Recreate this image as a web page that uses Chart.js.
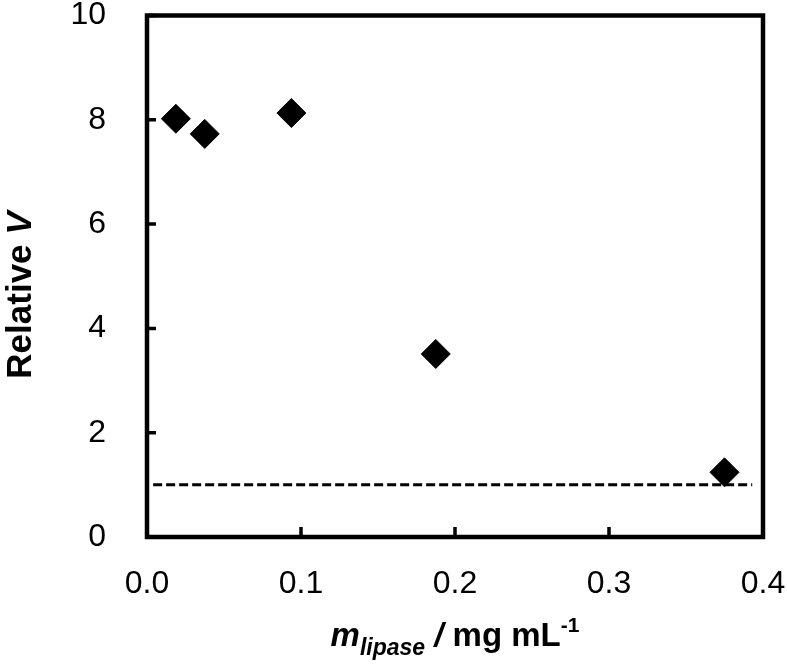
<!DOCTYPE html>
<html>
<head>
<meta charset="utf-8">
<script src="https://cdn.jsdelivr.net/npm/chart.js@4.4.1/dist/chart.umd.min.js"></script>
<style>
  html, body { margin: 0; padding: 0; background: #fff; }
  #wrap { width: 787px; height: 666px; }
</style>
</head>
<body>
<div id="wrap"><canvas id="myChart" width="787" height="666"></canvas></div>
<script>
// measured points
var xValues = [0.01875, 0.0375, 0.09375, 0.1875, 0.375];
var yValues = [8.02, 7.73, 8.13, 3.51, 1.24];
// reference line at relative V = 1
var refX = [0.004, 0.393];
var refY = [1, 1];
var xTicks = [0, 0.1, 0.2, 0.3, 0.4];
var yTicks = [0, 2, 4, 6, 8, 10];

var FONT = '"Liberation Sans", Arial, sans-serif';

function toPoints(xs, ys) {
  return xs.map(function (x, i) { return { x: x, y: ys[i] }; });
}

// frame, inward ticks, axis titles with sub/superscripts
var framePlugin = {
  id: "frame",
  afterDraw: function (chart) {
    var ctx = chart.ctx;
    var a = chart.chartArea;
    var xs = chart.scales.x, ys = chart.scales.y;
    ctx.save();
    ctx.strokeStyle = "#000";
    ctx.lineWidth = 4.5;
    ctx.lineJoin = "miter";
    ctx.strokeRect(a.left, a.top, a.right - a.left, a.bottom - a.top);

    ctx.lineWidth = 3.5;
    ctx.beginPath();
    xTicks.forEach(function (v) {
      var px = xs.getPixelForValue(v);
      ctx.moveTo(px, a.bottom);
      ctx.lineTo(px, a.bottom - 10);
    });
    yTicks.forEach(function (v) {
      var py = ys.getPixelForValue(v);
      ctx.moveTo(a.left, py);
      ctx.lineTo(a.left + 9, py);
    });
    ctx.stroke();

    ctx.fillStyle = "#000";
    ctx.textBaseline = "alphabetic";

    // x title: m_lipase / mg mL^-1
    var parts = [
      { t: "m", f: "italic bold 33px " + FONT, dy: 0 },
      { t: "lipase", f: "italic bold 23px " + FONT, dy: 9 },
      { t: " / ", f: "italic bold 33px " + FONT, dy: 0 },
      { t: "mg mL", f: "bold 33px " + FONT, dy: 0 },
      { t: "-1", f: "bold 21px " + FONT, dy: -14 }
    ];
    var total = 0;
    parts.forEach(function (p) { ctx.font = p.f; p.w = ctx.measureText(p.t).width; total += p.w; });
    var x0 = (a.left + a.right) / 2 - total / 2;
    var base = 646;
    parts.forEach(function (p) {
      ctx.font = p.f;
      ctx.fillText(p.t, x0, base + p.dy);
      x0 += p.w;
    });

    // y title: Relative V
    ctx.translate(31, 295);
    ctx.rotate(-Math.PI / 2);
    var yparts = [
      { t: "Relative ", f: "bold 35px " + FONT },
      { t: "V", f: "italic bold 35px " + FONT }
    ];
    var tw = 0;
    yparts.forEach(function (p) { ctx.font = p.f; p.w = ctx.measureText(p.t).width; tw += p.w; });
    var s = -tw / 2;
    yparts.forEach(function (p) {
      ctx.font = p.f;
      ctx.fillText(p.t, s, 0);
      s += p.w;
    });
    ctx.restore();
  }
};

var config = {
  type: "scatter",
  data: {
    datasets: [
      {
        label: "Relative V",
        data: toPoints(xValues, yValues),
        pointStyle: "rectRot",
        pointRadius: 14.5,
        pointHoverRadius: 14.5,
        backgroundColor: "#000",
        borderColor: "#000",
        borderWidth: 1
      },
      {
        label: "V = 1",
        type: "line",
        data: toPoints(refX, refY),
        borderColor: "#000",
        borderWidth: 3,
        borderDash: [9, 4],
        pointRadius: 0,
        fill: false
      }
    ]
  },
  options: {
    responsive: false,
    animation: false,
    layout: { padding: { left: 0, top: 13, right: 24, bottom: 0 } },
    plugins: {
      legend: { display: false },
      tooltip: { enabled: false }
    },
    scales: {
      x: {
        type: "linear",
        min: 0,
        max: 0.4,
        afterFit: function (s) {
          s.height = 129;
          s.paddingLeft = 0;
          s.paddingRight = 0;
        },
        afterBuildTicks: function (s) { s.ticks = xTicks.map(function (v) { return { value: v }; }); },
        grid: { display: false },
        border: { display: false },
        ticks: {
          color: "#000",
          padding: 20,
          font: { family: FONT, size: 32 },
          callback: function (v) { return Number(v).toFixed(1); }
        }
      },
      y: {
        min: 0,
        max: 10,
        afterFit: function (s) {
          s.width = 147;
          s.paddingTop = 0;
          s.paddingBottom = 0;
        },
        afterBuildTicks: function (s) { s.ticks = yTicks.map(function (v) { return { value: v }; }); },
        grid: { display: false },
        border: { display: false },
        ticks: {
          color: "#000",
          padding: 33,
          font: { family: FONT, size: 32 }
        }
      }
    }
  },
  plugins: [framePlugin]
};

var ctx = document.getElementById("myChart").getContext("2d");
new Chart(ctx, config);
</script>
</body>
</html>
